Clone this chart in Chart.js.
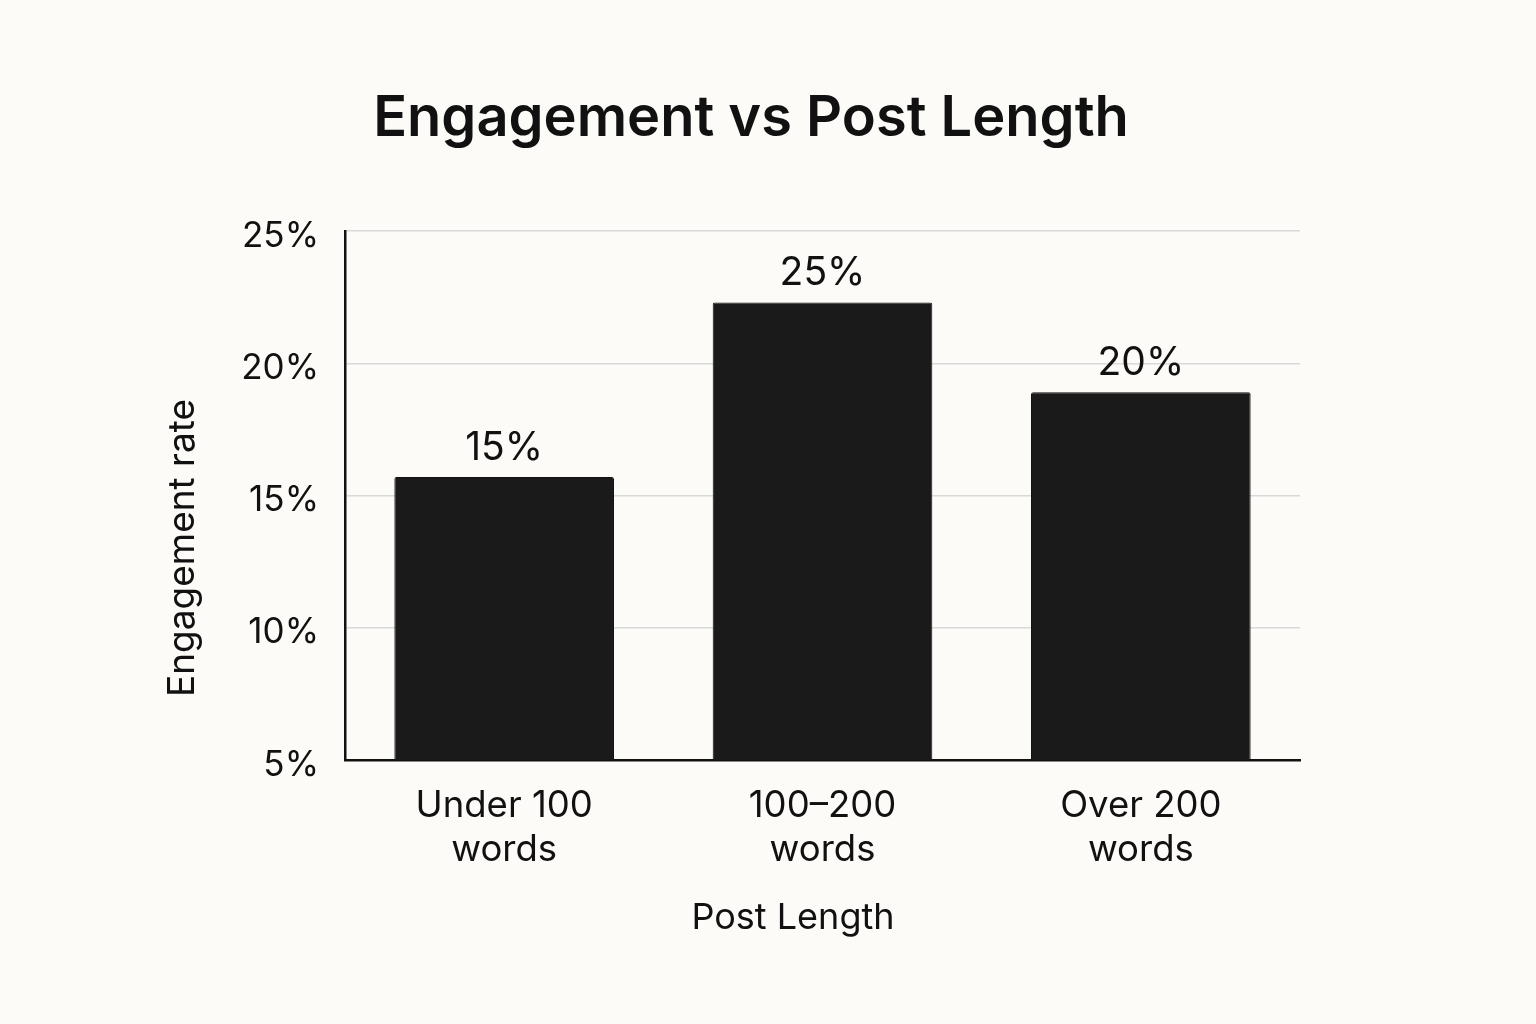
<!DOCTYPE html>
<html>
<head>
<meta charset="utf-8">
<script src="https://cdn.jsdelivr.net/npm/chart.js@4"></script>
<style>
  html, body { margin: 0; padding: 0; background: #fcfbf7; }
  #wrap { width: 1536px; height: 1024px; }
</style>
</head>
<body>
<div id="wrap"><canvas id="bar_chart" width="1536" height="1024"></canvas></div>
<script>
const chartTitle = "Engagement vs Post Length";
const xTitle = "Post Length";
const yTitle = "Engagement rate";
const categories = [["Under 100", "words"], ["100\u2013200", "words"], ["Over 200", "words"]];
// bar heights as drawn in the picture
const engagement = [15.7, 22.3, 18.9];
// labels printed above the bars
const barLabels = ["15%", "25%", "20%"];
const yTicks = [5, 10, 15, 20, 25];

const ink = "#111111";
const fontFamily = "Inter, 'Noto Sans', sans-serif";

// chart title and axis titles, placed like in the picture
const titlePlugin = {
  id: "titleText",
  afterDraw(chart) {
    const ctx = chart.ctx;
    ctx.save();
    ctx.fillStyle = ink;
    ctx.textAlign = "center";
    ctx.textBaseline = "middle";
    ctx.font = "600 56px " + fontFamily;
    ctx.fillText(chartTitle, 751, 119);

    ctx.font = "36px " + fontFamily;
    ctx.fillText(xTitle, 793, 918);

    ctx.translate(183, 548);
    ctx.rotate(-Math.PI / 2);
    ctx.font = "37px " + fontFamily;
    ctx.fillText(yTitle, 0, 0);
    ctx.restore();
  }
};

// value labels on top of each bar
const barLabelPlugin = {
  id: "barLabels",
  afterDatasetsDraw(chart) {
    const ctx = chart.ctx;
    const meta = chart.getDatasetMeta(0);
    ctx.save();
    ctx.fillStyle = ink;
    ctx.font = "39px " + fontFamily;
    ctx.textAlign = "center";
    ctx.textBaseline = "alphabetic";
    meta.data.forEach((bar, i) => {
      ctx.fillText(barLabels[i], bar.x, bar.y - 17);
    });
    ctx.restore();
  }
};

const ctx = document.getElementById("bar_chart").getContext("2d");
new Chart(ctx, {
  type: "bar",
  data: {
    labels: categories,
    datasets: [{
      label: "Engagement rate",
      data: engagement,
      backgroundColor: "#1a1a1a",
      borderColor: "#111111",
      borderWidth: 1,
      borderRadius: 2,
      borderSkipped: "bottom",
      categoryPercentage: 1,
      barPercentage: 0.69
    }]
  },
  options: {
    responsive: false,
    animation: false,
    layout: { padding: { top: 231, right: 236, bottom: 0, left: 0 } },
    plugins: {
      legend: { display: false },
      tooltip: { enabled: false }
    },
    scales: {
      x: {
        grid: { display: false },
        border: { display: true, color: ink, width: 2.5 },
        ticks: {
          color: ink,
          padding: 16,
          font: { family: fontFamily, size: 36.5, lineHeight: 1.2 }
        },
        afterFit(scale) { scale.height = 264; }
      },
      y: {
        min: 5,
        max: 25,
        afterBuildTicks(scale) {
          scale.ticks = yTicks.map(v => ({ value: v }));
        },
        grid: { color: "#d9d9d9", lineWidth: 1.5, drawTicks: false },
        border: { display: true, color: ink, width: 2.5 },
        ticks: {
          color: ink,
          padding: 26,
          labelOffset: 5,
          font: { family: fontFamily, size: 35 },
          callback: (v) => v + "%"
        },
        afterFit(scale) { scale.width = 345; }
      }
    }
  },
  plugins: [titlePlugin, barLabelPlugin]
});
</script>
</body>
</html>
